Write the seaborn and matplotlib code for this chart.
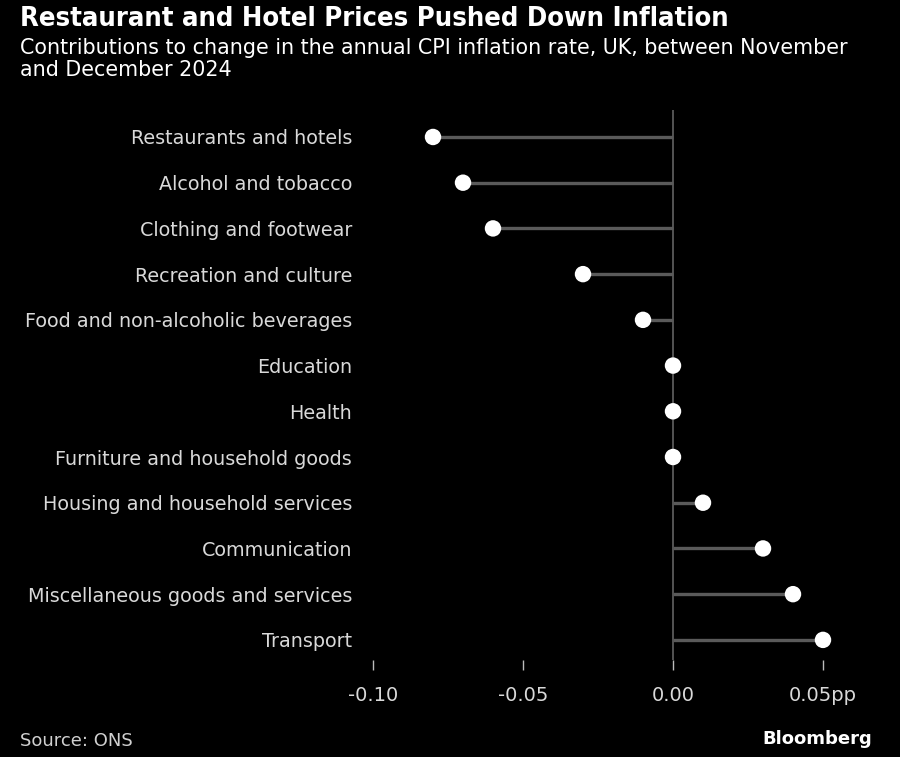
import matplotlib
matplotlib.use("Agg")
import matplotlib.pyplot as plt
import seaborn as sns
import pandas as pd

categories = [
    "Restaurants and hotels",
    "Alcohol and tobacco",
    "Clothing and footwear",
    "Recreation and culture",
    "Food and non-alcoholic beverages",
    "Education",
    "Health",
    "Furniture and household goods",
    "Housing and household services",
    "Communication",
    "Miscellaneous goods and services",
    "Transport",
]
values = [-0.08, -0.07, -0.06, -0.03, -0.01, 0.0, 0.0, 0.0, 0.01, 0.03, 0.04, 0.05]
tick_values = [-0.10, -0.05, 0.00, 0.05]
tick_labels = ["-0.10", "-0.05", "0.00", "0.05pp"]

df = pd.DataFrame({"category": categories, "value": values})
df["pos"] = range(len(df))

sns.set_style("dark")
plt.rcParams["font.family"] = ["DejaVu Sans"]

fig = plt.figure(figsize=(9, 7.57), dpi=100, facecolor="black")
ax = fig.add_axes([373 / 900, 1 - 660 / 757, (838 - 373) / 900, (660 - 110) / 757])
ax.set_facecolor("black")

ax.hlines(df["pos"], 0, df["value"], color="#5a5a5a", linewidth=2.4, zorder=1)
ax.axvline(0, color="#5a5a5a", linewidth=1.3, zorder=0)
sns.scatterplot(data=df, x="value", y="pos", ax=ax, color="white", s=140,
                edgecolor="none", zorder=3, legend=False)

ax.set_xlim(-0.1, 0.055)
ax.set_ylim(11.44, -0.59)
ax.set_yticks(df["pos"])
ax.set_yticklabels(categories, fontsize=13.8, color="#d9d9d9")
ax.tick_params(axis="y", left=False, length=0, pad=15)
ax.set_xticks(tick_values)
ax.set_xticklabels(tick_labels, fontsize=14, color="#d9d9d9")
ax.tick_params(axis="x", bottom=True, length=7, width=1.0, color="#bbbbbb",
               direction="out", pad=12)
ax.set_xlabel("")
ax.set_ylabel("")
ax.grid(False)
for s in ax.spines.values():
    s.set_visible(False)

fig.text(20 / 900, 1 - 19 / 757, "Restaurant and Hotel Prices Pushed Down Inflation",
         fontsize=19.6, fontweight="bold", color="white", va="center", ha="left",
         fontstretch="condensed")
fig.text(20 / 900, 1 - 38 / 757,
         "Contributions to change in the annual CPI inflation rate, UK, between November\nand December 2024",
         fontsize=14.9, color="white", va="top", ha="left", linespacing=1.1)
fig.text(20 / 900, 1 - 741 / 757, "Source: ONS", fontsize=13, color="#d0d0d0",
         va="center", ha="left")
fig.text(872 / 900, 1 - 739 / 757, "Bloomberg", fontsize=13, fontweight="bold",
         color="white", va="center", ha="right")

fig.savefig("out.png", dpi=100, facecolor="black")
